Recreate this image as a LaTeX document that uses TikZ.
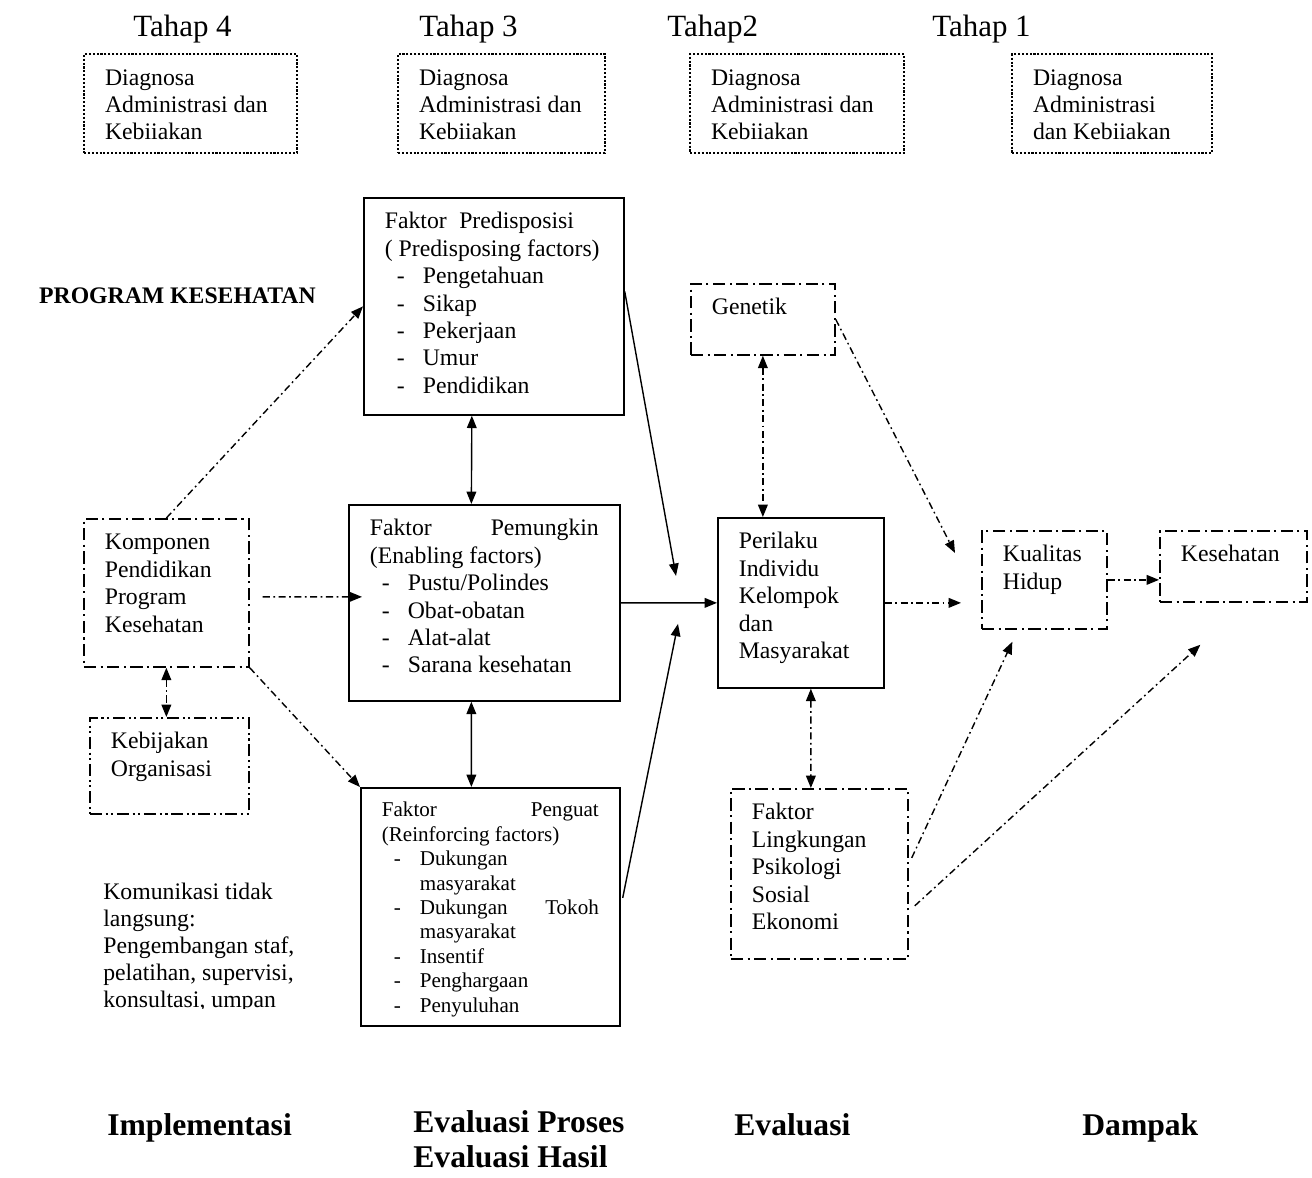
\documentclass[tikz,border=0pt]{standalone}
\usepackage{fontspec}
\setmainfont{Liberation Serif}
\usetikzlibrary{arrows.meta,calc,positioning}
\tikzset{
  kotak/.style={draw, line width=1pt, anchor=north west, align=flush left, inner xsep=0.42cm, inner ysep=0pt,
    text height=0.62cm, font=\fontsize{13.5}{15.6}\selectfont},
  diag/.style={kotak, line width=1.2pt, densely dotted},
  putus/.style={kotak, dash pattern=on 7pt off 2.5pt on 1.2pt off 2.5pt},
  putusdua/.style={kotak, dash pattern=on 7pt off 2pt on 1.2pt off 2pt on 1.2pt off 2pt},
  tahap/.style={anchor=base west, inner sep=0pt, font=\fontsize{17.6}{20}\selectfont},
  fase/.style={anchor=north west, inner sep=0pt, align=flush left, font=\bfseries\fontsize{18}{20}\selectfont},
  judul/.style={anchor=base east, inner sep=0pt, font=\bfseries\fontsize{13.5}{15}\selectfont},
  teks/.style={anchor=north west, inner sep=0pt, align=flush left, font=\fontsize{13.5}{15.3}\selectfont},
  panah/.style={line width=0.8pt, ->},
  panahdua/.style={line width=0.8pt, <->},
  titik/.style={dash pattern=on 4pt off 2pt on 1pt off 2pt},
}
\newcommand{\butir}[1]{\hspace*{0.24cm}\makebox[0.52cm][l]{-}#1}

\begin{document}
\begin{tikzpicture}[x=0.02cm, y=-0.02cm, >={Triangle[length=7pt,width=5.5pt]}]
  \useasboundingbox (0,0) rectangle (1312,1177);

  \node[tahap] (tahap4) at (133,36) {Tahap 4};
  \node[tahap] (tahap3) at (419,36) {Tahap 3};
  \node[tahap] (tahap2) at (667,36) {Tahap2};
  \node[tahap] (tahap1) at (932,36) {Tahap 1};

  \node[diag, text width=3.42cm, text depth=1.36cm] (diag4) at (83,53) {Diagnosa\\Administrasi dan\\Kebiiakan};
  \node[diag, text width=3.30cm, text depth=1.36cm] (diag3) at (397,53) {Diagnosa\\Administrasi dan\\Kebiiakan};
  \node[diag, text width=3.44cm, text depth=1.36cm] (diag2) at (689,53) {Diagnosa\\Administrasi dan\\Kebiiakan};
  \node[diag, text width=3.16cm, text depth=1.36cm] (diag1) at (1011,53) {Diagnosa\\Administrasi\\dan Kebiiakan};

  \node[judul] (program) at (316,303) {PROGRAM KESEHATAN};

  \node[kotak, text width=4.36cm, text depth=3.72cm] (predis) at (363,197)
    {Faktor\hspace{0.25cm}Predisposisi\\( Predisposing factors)\\\butir{Pengetahuan}\\\butir{Sikap}\\\butir{Pekerjaan}\\\butir{Umur}\\\butir{Pendidikan}};
  \node[kotak, text width=4.58cm, text depth=3.30cm] (pemungkin) at (348,504)
    {\makebox[4.58cm][s]{Faktor Pemungkin}\\(Enabling factors)\\\butir{Pustu/Polindes}\\\butir{Obat-obatan}\\\butir{Alat-alat}\\\butir{Sarana kesehatan}};
  \node[kotak, font=\fontsize{12}{13.9}\selectfont, text height=0.58cm, text width=4.34cm, text depth=4.18cm] (penguat) at (360,787)
    {\makebox[4.34cm][s]{Faktor Penguat}\\(Reinforcing factors)\\\butir{Dukungan}\\\hspace*{0.76cm}masyarakat\\\butir{\makebox[3.58cm][s]{Dukungan Tokoh}}\\\hspace*{0.76cm}masyarakat\\\butir{Insentif}\\\butir{Penghargaan}\\\butir{Penyuluhan}};

  \node[putus, text width=2.46cm, text depth=2.34cm] (komponen) at (83,518) {Komponen\\Pendidikan\\Program\\Kesehatan};
  \node[putusdua, text width=2.34cm, text depth=1.30cm] (kebijakan) at (89,717) {Kebijakan\\Organisasi};
  \begin{scope}
    \clip (0,860) rectangle (345,1008);
    \node[teks] (komunikasi) at (103,883) {Komunikasi tidak\\langsung:\\Pengembangan staf,\\pelatihan, supervisi,\\konsultasi, umpan};
  \end{scope}

  \node[putus, text width=2.04cm, text depth=0.80cm] (genetik) at (690,283) {Genetik};
  \node[kotak, text width=2.48cm, text depth=2.78cm] (perilaku) at (717,517) {Perilaku\\Individu\\Kelompok\\dan\\Masyarakat};
  \node[putus, text width=2.70cm, text depth=2.78cm] (lingkungan) at (730,788) {Faktor\\Lingkungan\\Psikologi\\Sosial\\Ekonomi};
  \node[putus, text width=1.66cm, text depth=1.34cm] (kualitas) at (981,530) {Kualitas\\Hidup};
  \node[putus, text width=2.10cm, text depth=0.80cm] (kesehatan) at (1159,530) {Kesehatan};

  \node[fase] (implementasi) at (107,1113) {Implementasi};
  \node[fase] (evalproses) at (413,1110) {Evaluasi Proses\\Evaluasi Hasil};
  \node[fase] (evaluasi) at (734,1113) {Evaluasi};
  \node[fase] (dampak) at (1082,1113) {Dampak};

  \draw[panah, titik] (komponen.north) -- (predis.west);
  \draw[panah, titik] ($(komponen.east)+(13,4)$) -- ($(pemungkin.west)+(14,-6)$);
  \draw[panah, titik] (komponen.south east) -- (penguat.north west);
  \draw[panahdua, titik] (komponen.south) -- (komponen.south |- kebijakan.north);
  \draw[panahdua] ($(predis.south)+(-22,0)$) -- ($(pemungkin.north)+(-13,0)$);
  \draw[panahdua] ($(pemungkin.south)+(-13,0)$) -- ($(penguat.north)+(-19,0)$);
  \draw[panah] ($(predis.east)+(0,-15)$) -- ($(perilaku.west)+(-41,-27)$);
  \draw[panah] (pemungkin.east) -- (perilaku.west);
  \draw[panah] ($(penguat.east)+(2,-9)$) -- ($(perilaku.west)+(-39,21)$);
  \draw[panahdua, titik] (genetik.south) -- (genetik.south |- perilaku.north);
  \draw[panah, titik] (genetik.east) -- ($(kualitas.north west)+(-26,23)$);
  \draw[panah, titik] (perilaku.east) -- ($(perilaku.east -| kualitas.west)+(-20,0)$);
  \draw[panah, titik] (kualitas.east) -- (kualitas.east -| kesehatan.west);
  \draw[panahdua, titik] ($(perilaku.south)+(10,0)$) -- ($(lingkungan.north)+(-8.5,0)$);
  \draw[panah, titik] ($(lingkungan.east)+(3,-16)$) -- ($(kualitas.south)+(-32,12)$);
  \draw[panah, titik] ($(lingkungan.east)+(6,32)$) -- ($(kesehatan.south)+(-33,42)$);
\end{tikzpicture}
\end{document}
